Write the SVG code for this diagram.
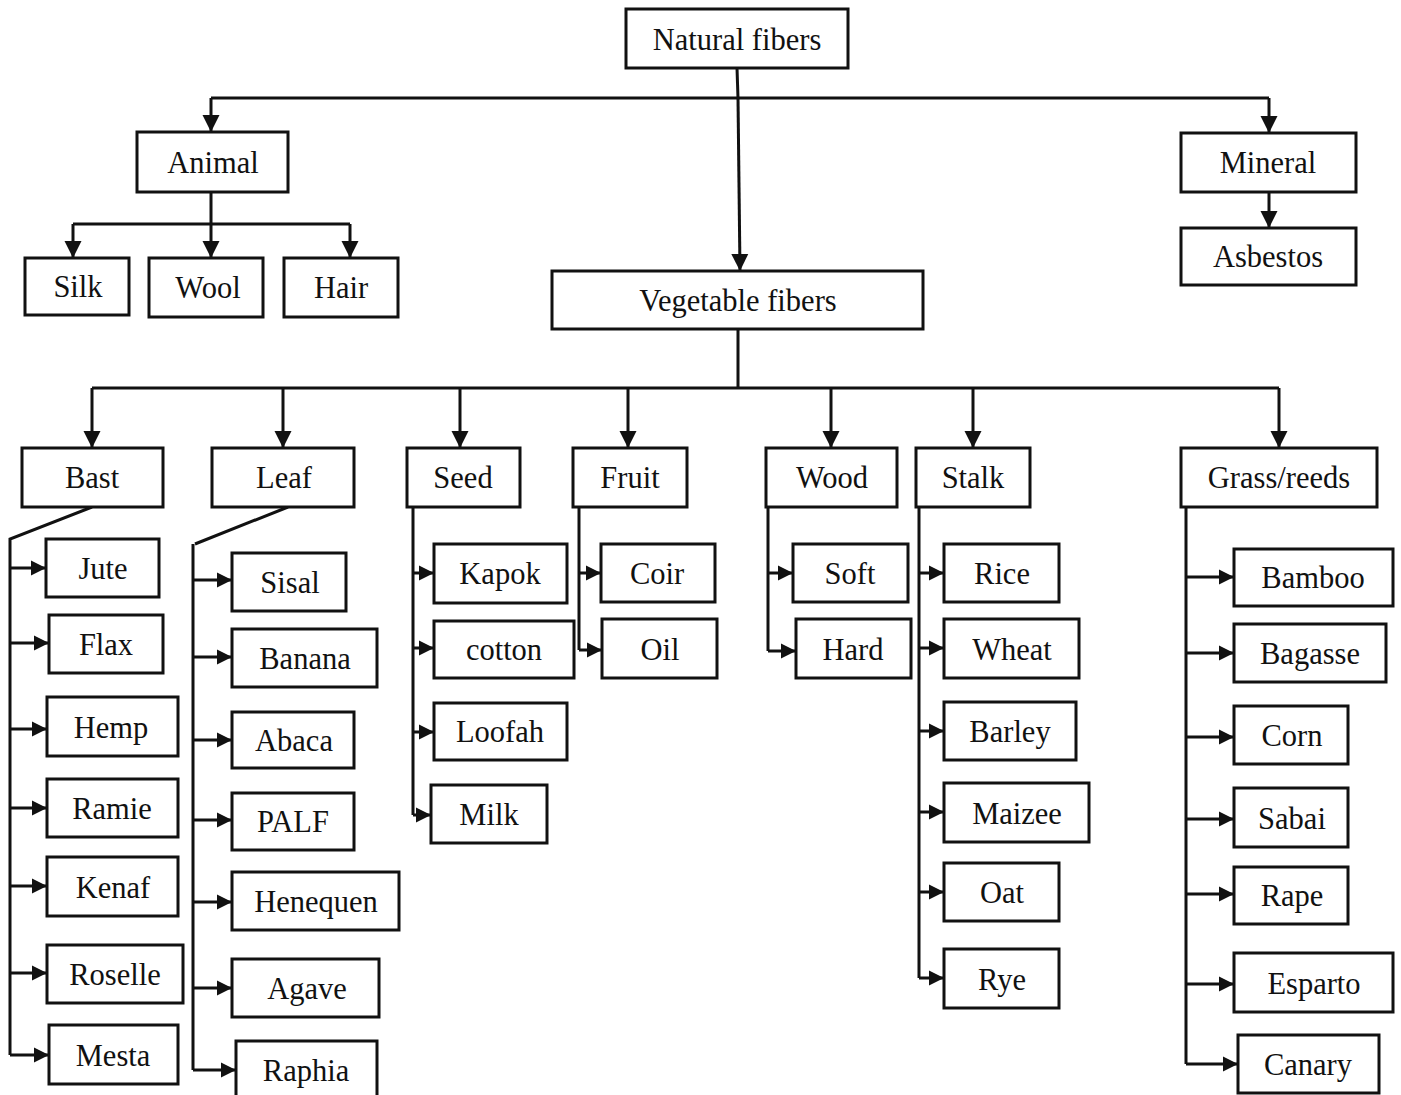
<svg xmlns="http://www.w3.org/2000/svg" width="1401" height="1095" viewBox="0 0 1401 1095">
<style>
.b rect{fill:#fff;stroke:#111;stroke-width:3}
.b text{font-family:"Liberation Serif","Times New Roman",serif;font-size:30.5px;fill:#111;text-anchor:middle}
.c path{fill:none;stroke:#111;stroke-width:3}
.c .a{marker-end:url(#ah)}
.c .s{marker-end:url(#as)}
</style>
<defs>
<marker id="ah" markerUnits="userSpaceOnUse" markerWidth="18" markerHeight="18" refX="17" refY="9" orient="auto" viewBox="0 0 18 18">
<path d="M0,0.5 L17,9 L0,17.5 z" fill="#111"/>
</marker>
<marker id="as" markerUnits="userSpaceOnUse" markerWidth="16" markerHeight="16" refX="15" refY="8" orient="auto" viewBox="0 0 16 16">
<path d="M0,0.5 L15,8 L0,15.5 z" fill="#111"/>
</marker>
</defs>
<rect width="1401" height="1095" fill="#fff"/>
<g id="connectors" class="c">
<path d="M737,68 L738,98"/>
<path d="M211,98 L1269,98"/>
<path class="a" d="M211,98 L211,132"/>
<path class="a" d="M1269,98 L1269,133"/>
<path class="a" d="M738,98 L740,271"/>
<path d="M211,192 L211,224 M73,224 L350,224"/>
<path class="a" d="M73,224 L73,258"/>
<path class="a" d="M211,224 L211,258"/>
<path class="a" d="M350,224 L350,258"/>
<path class="a" d="M1269,192 L1269,228"/>
<path d="M738,329 L738,388 M92,388 L1279,388"/>
<path class="a" d="M92,388 L92,448"/>
<path class="a" d="M283,388 L283,448"/>
<path class="a" d="M460,388 L460,448"/>
<path class="a" d="M628,388 L628,448"/>
<path class="a" d="M831,388 L831,448"/>
<path class="a" d="M973,388 L973,448"/>
<path class="a" d="M1279,388 L1279,448"/>
<path d="M92,507 L10,539 L10,1055"/>
<path class="s" d="M10,568 L46,568"/>
<path class="s" d="M10,643 L49,643"/>
<path class="s" d="M10,729 L47,729"/>
<path class="s" d="M10,808 L47,808"/>
<path class="s" d="M10,886 L47,886"/>
<path class="s" d="M10,973 L47,973"/>
<path class="s" d="M10,1055 L49,1055"/>
<path d="M288,507 L195,544 M193,544 L193,1070"/>
<path class="s" d="M193,580 L232,580"/>
<path class="s" d="M193,657 L232,657"/>
<path class="s" d="M193,740 L232,740"/>
<path class="s" d="M193,820 L232,820"/>
<path class="s" d="M193,902 L232,902"/>
<path class="s" d="M193,988 L232,988"/>
<path class="s" d="M193,1070 L236,1070"/>
<path d="M413,507 L413,815"/>
<path class="s" d="M413,573 L434,573"/>
<path class="s" d="M413,648 L434,648"/>
<path class="s" d="M413,732 L434,732"/>
<path class="s" d="M413,815 L431,815"/>
<path d="M579,507 L579,650"/>
<path class="s" d="M579,573 L601,573"/>
<path class="s" d="M579,650 L602,650"/>
<path d="M768,507 L768,651"/>
<path class="s" d="M768,573 L793,573"/>
<path class="s" d="M768,651 L796,651"/>
<path d="M919,507 L919,978"/>
<path class="s" d="M919,573 L944,573"/>
<path class="s" d="M919,648 L944,648"/>
<path class="s" d="M919,731 L944,731"/>
<path class="s" d="M919,812 L944,812"/>
<path class="s" d="M919,892 L944,892"/>
<path class="s" d="M919,978 L944,978"/>
<path d="M1186,507 L1186,1064"/>
<path class="s" d="M1186,577 L1234,577"/>
<path class="s" d="M1186,653 L1234,653"/>
<path class="s" d="M1186,737 L1234,737"/>
<path class="s" d="M1186,819 L1234,819"/>
<path class="s" d="M1186,894 L1234,894"/>
<path class="s" d="M1186,984 L1234,984"/>
<path class="s" d="M1186,1064 L1238,1064"/>
</g>
<g id="n-natural" class="b"><rect x="626" y="9" width="222" height="59"/><text x="737" y="50">Natural fibers</text></g>
<g id="n-animal" class="b"><rect x="137" y="132" width="151" height="60"/><text x="213" y="173">Animal</text></g>
<g id="n-silk" class="b"><rect x="25" y="258" width="104" height="57"/><text x="78" y="297">Silk</text></g>
<g id="n-wool" class="b"><rect x="149" y="258" width="114" height="59"/><text x="208" y="298">Wool</text></g>
<g id="n-hair" class="b"><rect x="284" y="258" width="114" height="59"/><text x="341" y="298">Hair</text></g>
<g id="n-mineral" class="b"><rect x="1181" y="133" width="175" height="59"/><text x="1268" y="173">Mineral</text></g>
<g id="n-asbestos" class="b"><rect x="1181" y="228" width="175" height="57"/><text x="1268" y="267">Asbestos</text></g>
<g id="n-vegetable" class="b"><rect x="552" y="271" width="371" height="58"/><text x="738" y="311">Vegetable fibers</text></g>
<g id="n-bast" class="b"><rect x="22" y="448" width="141" height="59"/><text x="92" y="488">Bast</text></g>
<g id="n-leaf" class="b"><rect x="212" y="448" width="142" height="59"/><text x="284" y="488">Leaf</text></g>
<g id="n-seed" class="b"><rect x="407" y="448" width="113" height="59"/><text x="463" y="488">Seed</text></g>
<g id="n-fruit" class="b"><rect x="573" y="448" width="114" height="59"/><text x="630" y="488">Fruit</text></g>
<g id="n-wood" class="b"><rect x="766" y="448" width="131" height="59"/><text x="832" y="488">Wood</text></g>
<g id="n-stalk" class="b"><rect x="916" y="448" width="114" height="59"/><text x="973" y="488">Stalk</text></g>
<g id="n-grass" class="b"><rect x="1181" y="448" width="196" height="59"/><text x="1279" y="488">Grass/reeds</text></g>
<g id="n-jute" class="b"><rect x="46" y="539" width="113" height="58"/><text x="103" y="579">Jute</text></g>
<g id="n-flax" class="b"><rect x="49" y="615" width="114" height="58"/><text x="106" y="655">Flax</text></g>
<g id="n-hemp" class="b"><rect x="47" y="697" width="131" height="59"/><text x="111" y="738">Hemp</text></g>
<g id="n-ramie" class="b"><rect x="47" y="779" width="131" height="58"/><text x="112" y="819">Ramie</text></g>
<g id="n-kenaf" class="b"><rect x="47" y="857" width="131" height="59"/><text x="113" y="898">Kenaf</text></g>
<g id="n-roselle" class="b"><rect x="47" y="945" width="136" height="58"/><text x="115" y="985">Roselle</text></g>
<g id="n-mesta" class="b"><rect x="49" y="1025" width="129" height="59"/><text x="113" y="1066">Mesta</text></g>
<g id="n-sisal" class="b"><rect x="232" y="553" width="114" height="58"/><text x="290" y="593">Sisal</text></g>
<g id="n-banana" class="b"><rect x="232" y="629" width="145" height="58"/><text x="305" y="669">Banana</text></g>
<g id="n-abaca" class="b"><rect x="232" y="712" width="122" height="56"/><text x="294" y="751">Abaca</text></g>
<g id="n-palf" class="b"><rect x="232" y="793" width="122" height="57"/><text x="293" y="832">PALF</text></g>
<g id="n-henequen" class="b"><rect x="232" y="872" width="167" height="58"/><text x="316" y="912">Henequen</text></g>
<g id="n-agave" class="b"><rect x="232" y="959" width="147" height="58"/><text x="307" y="999">Agave</text></g>
<g id="n-raphia" class="b"><rect x="236" y="1041" width="141" height="70"/><text x="306" y="1081">Raphia</text></g>
<g id="n-kapok" class="b"><rect x="434" y="544" width="133" height="59"/><text x="500" y="584">Kapok</text></g>
<g id="n-cotton" class="b"><rect x="434" y="621" width="140" height="57"/><text x="504" y="660">cotton</text></g>
<g id="n-loofah" class="b"><rect x="434" y="703" width="133" height="57"/><text x="500" y="742">Loofah</text></g>
<g id="n-milk" class="b"><rect x="431" y="785" width="116" height="58"/><text x="489" y="825">Milk</text></g>
<g id="n-coir" class="b"><rect x="601" y="544" width="114" height="58"/><text x="657" y="584">Coir</text></g>
<g id="n-oil" class="b"><rect x="602" y="619" width="115" height="59"/><text x="660" y="660">Oil</text></g>
<g id="n-soft" class="b"><rect x="793" y="544" width="115" height="58"/><text x="850" y="584">Soft</text></g>
<g id="n-hard" class="b"><rect x="796" y="619" width="115" height="59"/><text x="853" y="660">Hard</text></g>
<g id="n-rice" class="b"><rect x="944" y="544" width="115" height="58"/><text x="1002" y="584">Rice</text></g>
<g id="n-wheat" class="b"><rect x="944" y="619" width="135" height="59"/><text x="1012" y="660">Wheat</text></g>
<g id="n-barley" class="b"><rect x="944" y="702" width="132" height="58"/><text x="1010" y="742">Barley</text></g>
<g id="n-maizee" class="b"><rect x="944" y="783" width="145" height="59"/><text x="1017" y="824">Maizee</text></g>
<g id="n-oat" class="b"><rect x="944" y="863" width="115" height="58"/><text x="1002" y="903">Oat</text></g>
<g id="n-rye" class="b"><rect x="944" y="949" width="115" height="59"/><text x="1002" y="990">Rye</text></g>
<g id="n-bamboo" class="b"><rect x="1234" y="549" width="159" height="57"/><text x="1313" y="588">Bamboo</text></g>
<g id="n-bagasse" class="b"><rect x="1234" y="624" width="152" height="58"/><text x="1310" y="664">Bagasse</text></g>
<g id="n-corn" class="b"><rect x="1234" y="706" width="114" height="58"/><text x="1292" y="746">Corn</text></g>
<g id="n-sabai" class="b"><rect x="1234" y="788" width="114" height="59"/><text x="1292" y="829">Sabai</text></g>
<g id="n-rape" class="b"><rect x="1234" y="867" width="114" height="57"/><text x="1292" y="906">Rape</text></g>
<g id="n-esparto" class="b"><rect x="1234" y="953" width="159" height="59"/><text x="1314" y="994">Esparto</text></g>
<g id="n-canary" class="b"><rect x="1238" y="1035" width="141" height="58"/><text x="1308" y="1075">Canary</text></g>
</svg>
